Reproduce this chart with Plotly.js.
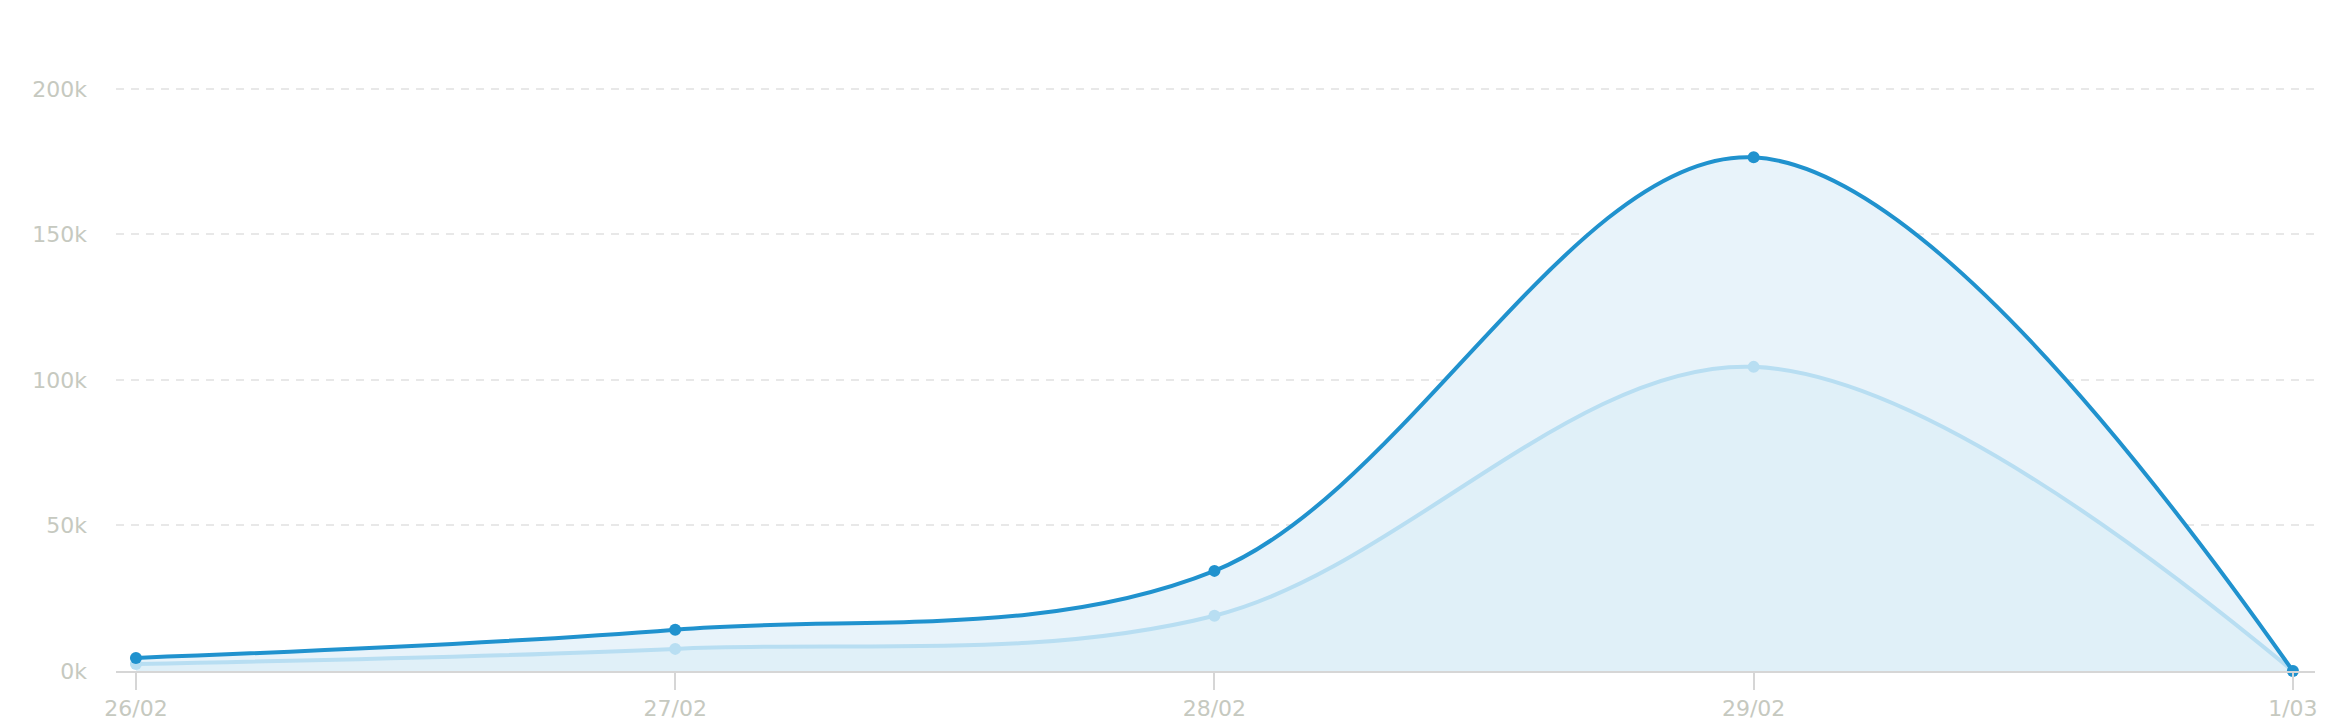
<!DOCTYPE html>
<html>
<head>
<meta charset="utf-8">
<script src="https://cdn.plot.ly/plotly-3.0.1.min.js"></script>
<style>html,body{margin:0;padding:0;background:#fff;}#chart{width:2334px;height:726px;}</style>
</head>
<body>
<div id="chart"></div>
<script>
const dates = ['26/02', '27/02', '28/02', '29/02', '1/03'];
const totalValues = [4500, 14200, 34400, 176500, 0];
const uniqueValues = [2400, 7600, 19000, 104500, 0];
const yTickVals = [0, 50000, 100000, 150000, 200000];
const yTickText = ['0k', '50k', '100k', '150k', '200k'];

const lightTrace = {
  x: dates, y: uniqueValues, type: 'scatter', mode: 'lines+markers',
  line: {shape: 'spline', smoothing: 1, color: '#b8def2', width: 4},
  marker: {size: 12, color: '#b8def2'},
  fill: 'tozeroy', fillcolor: '#e0f0f8',
  cliponaxis: false, hoverinfo: 'skip'
};
const darkTrace = {
  x: dates, y: totalValues, type: 'scatter', mode: 'lines+markers',
  line: {shape: 'spline', smoothing: 1, color: '#2092ce', width: 4},
  marker: {size: 12, color: '#2092ce'},
  fill: 'tonexty', fillcolor: '#e8f3fa',
  cliponaxis: false, hoverinfo: 'skip'
};

const layout = {
  width: 2334, height: 726,
  margin: {l: 116, r: 19, t: 77, b: 55},
  paper_bgcolor: '#ffffff', plot_bgcolor: '#ffffff',
  showlegend: false,
  font: {family: 'DejaVu Sans, sans-serif', color: '#c6c9c0', size: 22},
  xaxis: {
    type: 'category', range: [-0.037, 4.041],
    showgrid: false, zeroline: false,
    showline: true, linecolor: '#d6d6d6', linewidth: 2,
    ticks: 'outside', ticklen: 17, tickwidth: 2, tickcolor: '#d6d6d6',
    tickfont: {family: 'DejaVu Sans, sans-serif', size: 22, color: '#c6c9c0'},
    fixedrange: true
  },
  yaxis: {
    range: [0, 204100],
    tickvals: yTickVals, ticktext: yTickText,
    showgrid: true, gridcolor: '#e8e8e8', gridwidth: 2, griddash: '8px,7px',
    zeroline: false, showline: false,
    ticks: '', ticklabelstandoff: 28,
    tickfont: {family: 'DejaVu Sans, sans-serif', size: 22, color: '#c6c9c0'},
    fixedrange: true
  }
};

Plotly.newPlot('chart', [lightTrace, darkTrace], layout, {displayModeBar: false, staticPlot: true});
</script>
</body>
</html>
